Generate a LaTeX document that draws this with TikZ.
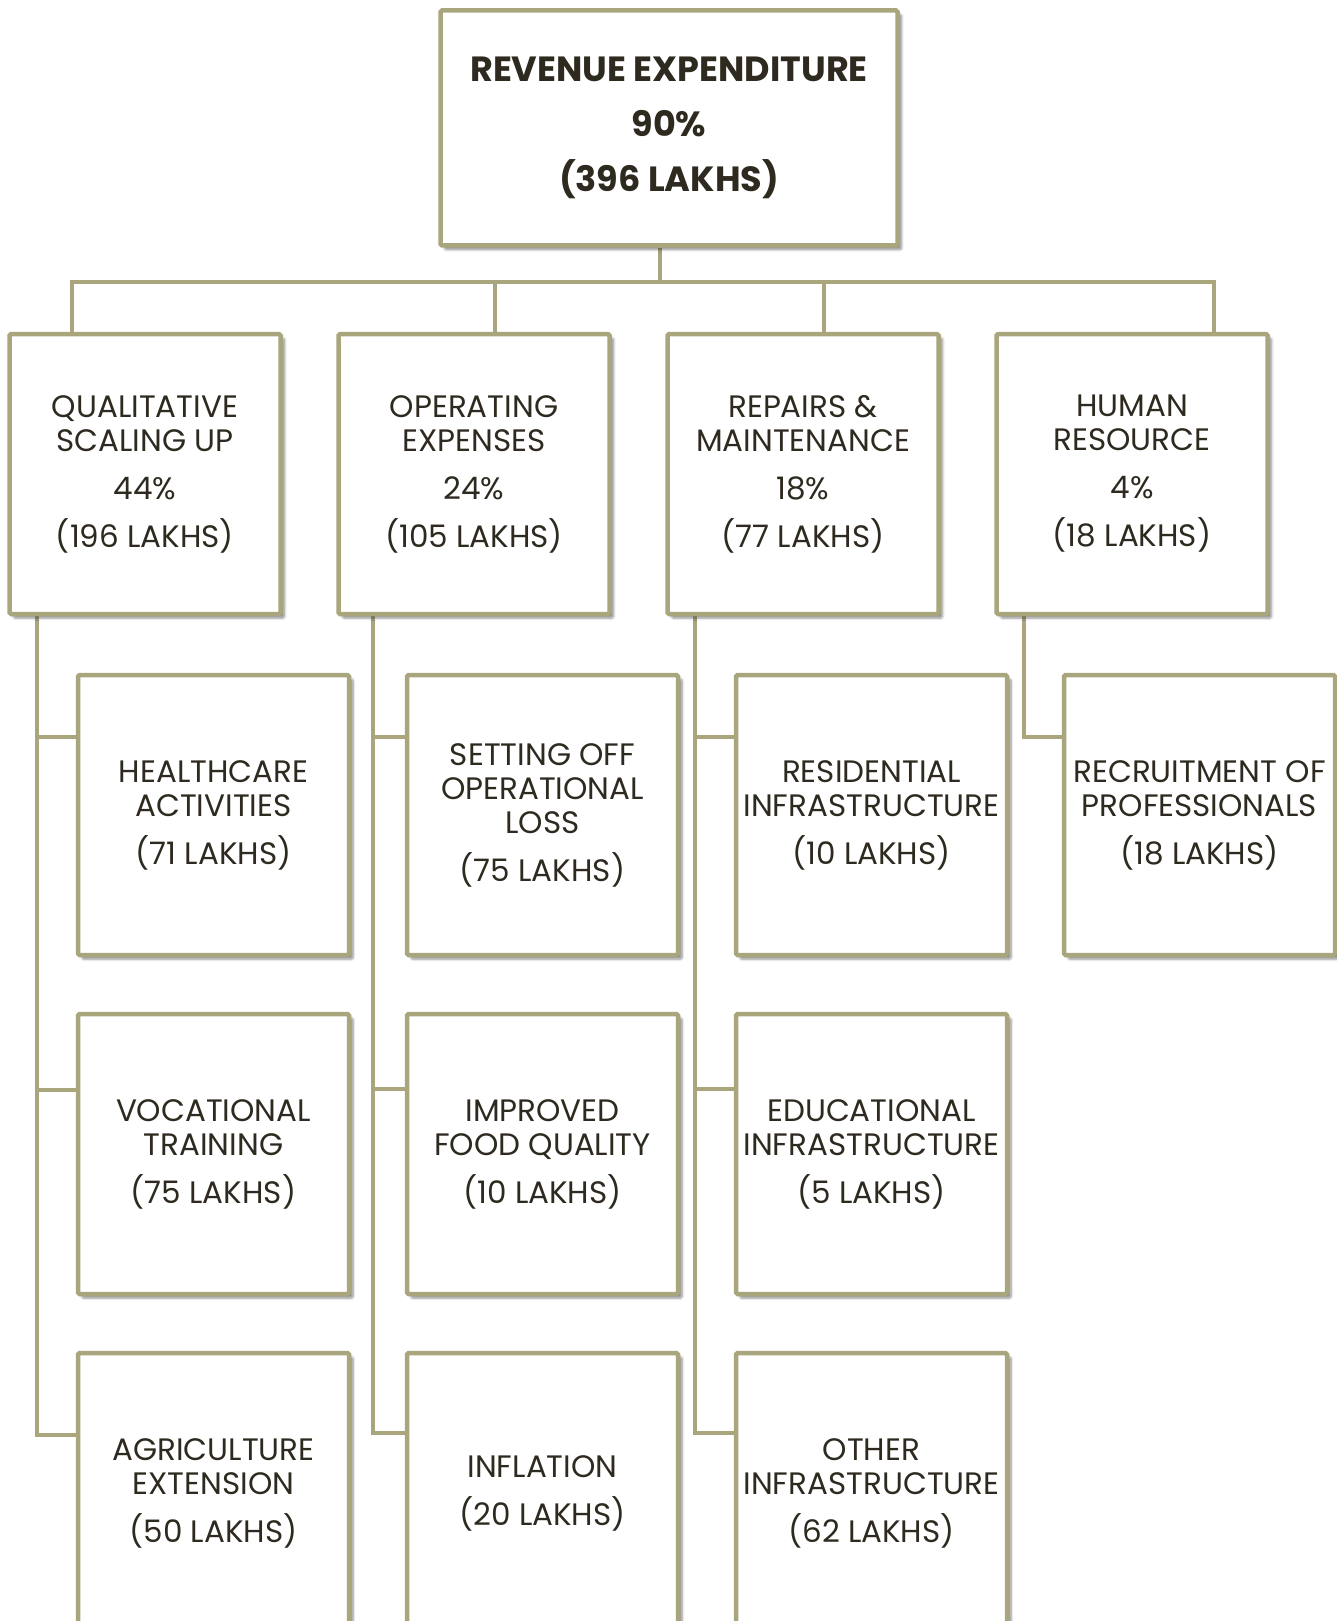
\documentclass[tikz,border=0pt]{standalone}
\usepackage{fontspec}
\setmainfont{Poppins}
\usetikzlibrary{shadows.blur,backgrounds}
\definecolor{khakiline}{RGB}{169,165,125}
\definecolor{inktext}{RGB}{46,42,32}
\tikzset{
  box/.style={draw=khakiline, line width=4.5pt, fill=white,
    minimum width=271pt, minimum height=280pt, align=center,
    text=inktext, inner sep=0pt, rounded corners=1.5pt,
    font=\fontsize{31}{34}\selectfont,
    blur shadow={shadow xshift=4pt, shadow yshift=-4pt,
      shadow blur steps=6, shadow blur radius=2.5pt, shadow opacity=45}},
  topbox/.style={box, minimum width=457pt, minimum height=235pt,
    font=\bfseries\fontsize{35}{55}\selectfont},
  conn/.style={draw=khakiline, line width=4.5pt}
}
\begin{document}
\begin{tikzpicture}[x=1pt,y=-1pt]
\useasboundingbox (0,0) rectangle (1337,1621);
\clip (0,0) rectangle (1337,1621);

% top
\node[topbox] (top) at (669,128) {REVENUE EXPENDITURE\\90\%\\(396 LAKHS)};

% level 1
\node[box] (q) at (145,474) {QUALITATIVE\\SCALING UP\\[14pt]44\%\\[14pt](196 LAKHS)};
\node[box] (o) at (474,474) {OPERATING\\EXPENSES\\[14pt]24\%\\[14pt](105 LAKHS)};
\node[box] (r) at (803,474) {REPAIRS \&\\MAINTENANCE\\[14pt]18\%\\[14pt](77 LAKHS)};
\node[box] (h) at (1132,474) {HUMAN\\RESOURCE\\[14pt]4\%\\[14pt](18 LAKHS)};

% level 2
\node[box] (q1) at (213.5,815) {HEALTHCARE\\ACTIVITIES\\[14pt](71 LAKHS)};
\node[box] (q2) at (213.5,1154) {VOCATIONAL\\TRAINING\\[14pt](75 LAKHS)};
\node[box] (q3) at (213.5,1493) {AGRICULTURE\\EXTENSION\\[14pt](50 LAKHS)};

\node[box] (o1) at (542.5,815) {SETTING OFF\\OPERATIONAL\\LOSS\\[14pt](75 LAKHS)};
\node[box] (o2) at (542.5,1154) {IMPROVED\\FOOD QUALITY\\[14pt](10 LAKHS)};
\node[box] (o3) at (542.5,1493) {INFLATION\\[14pt](20 LAKHS)};

\node[box] (r1) at (871.5,815) {RESIDENTIAL\\INFRASTRUCTURE\\[14pt](10 LAKHS)};
\node[box] (r2) at (871.5,1154) {EDUCATIONAL\\INFRASTRUCTURE\\[14pt](5 LAKHS)};
\node[box] (r3) at (871.5,1493) {OTHER\\INFRASTRUCTURE\\[14pt](62 LAKHS)};

\node[box] (h1) at (1199.5,815) {RECRUITMENT OF\\PROFESSIONALS\\[14pt](18 LAKHS)};

% connector coordinates
\coordinate (bs) at (660,282);
\coordinate (b1) at (72,282);
\coordinate (b2) at (495,282);
\coordinate (b3) at (824,282);
\coordinate (b4) at (1214,282);

\coordinate (qe1) at (37,737);  \coordinate (qe2) at (37,1090);  \coordinate (qe3) at (37,1435);
\coordinate (oe1) at (373,737); \coordinate (oe2) at (373,1089); \coordinate (oe3) at (373,1433);
\coordinate (re1) at (695,737); \coordinate (re2) at (695,1089); \coordinate (re3) at (695,1433);
\coordinate (he1) at (1024,737);

\begin{scope}[on background layer]
  \draw[conn] (top.south -| bs) -- (bs);
  \draw[conn] (q.north -| b1) -- (b1) -- (b4) -- (h.north -| b4);
  \draw[conn] (b2) -- (o.north -| b2);
  \draw[conn] (b3) -- (r.north -| b3);

  \draw[conn] (q.south -| qe1) -- (qe3) -- (qe3 -| q3.west);
  \draw[conn] (qe1) -- (qe1 -| q1.west);
  \draw[conn] (qe2) -- (qe2 -| q2.west);

  \draw[conn] (o.south -| oe1) -- (oe3) -- (oe3 -| o3.west);
  \draw[conn] (oe1) -- (oe1 -| o1.west);
  \draw[conn] (oe2) -- (oe2 -| o2.west);

  \draw[conn] (r.south -| re1) -- (re3) -- (re3 -| r3.west);
  \draw[conn] (re1) -- (re1 -| r1.west);
  \draw[conn] (re2) -- (re2 -| r2.west);

  \draw[conn] (h.south -| he1) -- (he1) -- (he1 -| h1.west);
\end{scope}
\end{tikzpicture}
\end{document}
